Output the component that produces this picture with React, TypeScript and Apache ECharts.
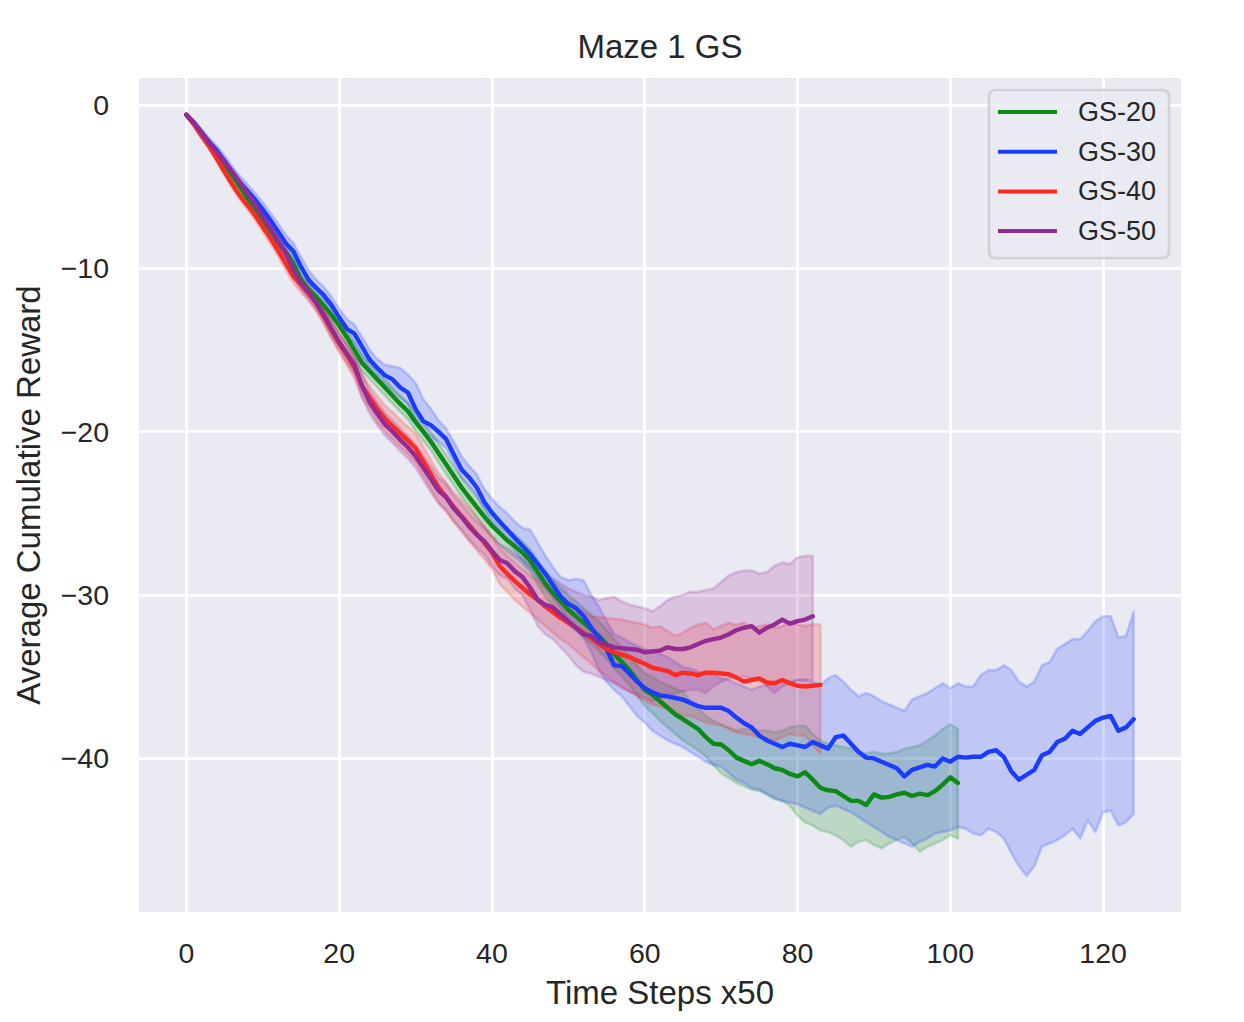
import React, { useEffect, useRef } from "react";
import * as echarts from "echarts";

const xTicks = [0, 20, 40, 60, 80, 100, 120];
const yTicks = [0, -10, -20, -30, -40];
const seriesNames = ["GS-20", "GS-30", "GS-40", "GS-50"];
const seriesColors = ["#0b8a16", "#1a3cff", "#ff2a1f", "#942a94"];

const gs20Mean = [
  -0.6, -1.1, -1.7, -2.3, -2.9, -3.6, -4.3, -5.0, -5.7, -6.4,
  -7.0, -7.7, -8.4, -9.0, -9.7, -10.7, -11.3, -11.75, -12.3, -12.85,
  -13.5, -14.2, -15.0, -15.8, -16.3, -16.8, -17.3, -17.8, -18.3, -18.75,
  -19.4, -20.0, -20.6, -21.3, -22.0, -22.7, -23.4, -24.0, -24.6, -25.2,
  -25.75, -26.2, -26.65, -27.0, -27.4, -27.9, -28.6, -29.3, -29.9, -30.4,
  -30.9, -31.3, -31.7, -32.1, -32.5, -33.0, -33.6, -34.1, -34.6, -35.2,
  -35.8, -36.1, -36.5, -36.9, -37.3, -37.6, -37.9, -38.2, -38.7, -39.1,
  -39.15, -39.5, -39.95, -40.15, -40.35, -40.15, -40.35, -40.6, -40.7, -40.95,
  -41.1, -40.85, -41.3, -41.8, -41.95, -42.0, -42.3, -42.6, -42.6, -42.85,
  -42.2, -42.4, -42.35, -42.2, -42.1, -42.3, -42.15, -42.25, -42.0, -41.6,
  -41.15, -41.5,
];
const gs20Upper = [
  -0.55, -1.0, -1.55, -2.1, -2.7, -3.35, -4.05, -4.7, -5.4, -6.1,
  -6.7, -7.35, -8.05, -8.65, -9.3, -10.3, -10.9, -11.35, -11.9, -12.45,
  -13.05, -13.75, -14.5, -15.3, -15.8, -16.3, -16.8, -17.3, -17.8, -18.25,
  -18.85, -19.45, -20.05, -20.7, -21.4, -22.1, -22.8, -23.4, -23.95, -24.55,
  -25.1, -25.5, -25.95, -26.3, -26.7, -27.2, -27.85, -28.5, -29.1, -29.55,
  -30.0, -30.4, -30.8, -31.2, -31.6, -32.1, -32.7, -33.2, -33.7, -34.3,
  -34.8, -35.0, -35.3, -35.5, -35.7, -35.9, -36.5, -36.9, -37.4, -37.7,
  -37.9, -38.1, -38.3, -38.2, -38.2, -38.3, -38.3, -38.4, -38.3, -38.1,
  -38.0, -38.0, -38.5, -38.9, -39.1, -39.2, -39.3, -39.4, -39.6, -39.7,
  -39.6, -39.7, -39.7, -39.6, -39.4, -39.3, -39.2, -38.9, -38.6, -38.2,
  -37.9, -38.2,
];
const gs20Lower = [
  -0.65, -1.2, -1.85, -2.5, -3.1, -3.85, -4.55, -5.3, -6.0, -6.7,
  -7.3, -8.05, -8.75, -9.35, -10.1, -11.1, -11.7, -12.15, -12.7, -13.25,
  -13.95, -14.65, -15.5, -16.3, -16.8, -17.3, -17.8, -18.3, -18.8, -19.25,
  -19.95, -20.55, -21.15, -21.9, -22.6, -23.3, -24.0, -24.6, -25.25, -25.85,
  -26.4, -26.9, -27.35, -27.7, -28.1, -28.6, -29.35, -30.1, -30.7, -31.25,
  -31.8, -32.2, -32.6, -33.0, -33.4, -33.9, -34.5, -35.0, -35.5, -36.1,
  -36.8, -37.2, -37.7, -38.1, -38.5, -38.9, -39.2, -39.5, -39.9, -40.4,
  -40.9, -41.2, -41.5, -41.7, -41.9, -42.0, -42.2, -42.5, -42.6, -42.9,
  -43.5, -43.9, -44.1, -44.4, -44.5, -44.7, -45.0, -45.4, -45.1, -45.0,
  -45.3, -45.5, -45.2, -45.0, -44.8, -45.2, -45.7, -45.4, -45.2, -45.0,
  -44.7, -44.9,
];

const gs30Mean = [
  -0.6, -1.1, -1.7, -2.3, -2.8, -3.45, -4.1, -4.75, -5.25, -5.8,
  -6.4, -7.05, -7.75, -8.45, -8.95, -9.9, -10.7, -11.2, -11.65, -12.25,
  -13.0, -13.7, -14.0, -14.8, -15.6, -16.1, -16.55, -16.8, -17.3, -17.6,
  -18.6, -19.35, -19.6, -20.0, -20.45, -21.4, -22.3, -22.8, -23.4, -24.3,
  -24.95, -25.5, -26.0, -26.5, -27.0, -27.5, -28.1, -28.7, -29.4, -30.1,
  -30.55, -30.8, -31.3, -32.0, -32.6, -33.3, -34.3, -34.35, -34.8, -35.3,
  -35.7, -35.95, -36.15, -36.2, -36.3, -36.4, -36.6, -36.8, -36.9, -36.9,
  -36.9, -37.1, -37.5, -37.85, -38.1, -38.6, -38.9, -39.1, -39.3, -39.1,
  -39.2, -39.3, -39.0, -39.2, -39.4, -38.7, -38.6, -39.1, -39.6, -39.95,
  -40.0, -40.2, -40.4, -40.6, -41.1, -40.7, -40.55, -40.4, -40.5, -40.0,
  -40.2, -39.9, -39.95, -39.9, -39.9, -39.6, -39.5, -39.9, -40.8, -41.3,
  -41.0, -40.7, -39.8, -39.6, -39.0, -38.8, -38.3, -38.5, -38.1, -37.7,
  -37.5, -37.4, -38.3, -38.1, -37.6,
];
const gs30Upper = [
  -0.55, -0.95, -1.5, -2.05, -2.5, -3.1, -3.75, -4.35, -4.85, -5.4,
  -5.95, -6.6, -7.25, -7.95, -8.45, -9.3, -10.1, -10.7, -11.15, -11.75,
  -12.45, -13.1, -13.45, -14.2, -15.0, -15.55, -15.9, -16.0, -16.1, -16.5,
  -17.0, -18.0, -18.6, -19.3, -19.8, -20.6, -21.5, -22.1, -22.6, -23.5,
  -24.1, -24.6, -25.0, -25.5, -25.9, -26.0, -26.8, -27.6, -28.3, -28.9,
  -29.1, -29.0, -29.1, -30.0, -30.7, -31.6, -32.4, -32.6, -32.9, -33.1,
  -33.3, -33.5, -33.6, -33.8, -34.1, -34.4, -34.5, -34.7, -34.8, -34.9,
  -35.1, -35.2, -35.4, -35.6, -35.8, -35.6, -35.5, -35.4, -35.2, -35.3,
  -35.2, -35.2, -35.3, -35.5, -35.1, -34.9, -35.3, -35.8, -36.2, -36.0,
  -36.2, -36.5, -36.7, -36.9, -37.1, -36.4, -36.2, -36.0, -35.7, -35.4,
  -35.7, -35.4, -35.6, -35.6, -34.9, -34.6, -34.6, -34.3, -34.6, -35.3,
  -35.6, -35.3, -34.3, -34.1, -33.3, -33.0, -32.7, -32.7, -32.2, -31.6,
  -31.3, -31.3, -32.6, -32.5, -31.0,
];
const gs30Lower = [
  -0.65, -1.25, -1.9, -2.55, -3.1, -3.8, -4.45, -5.15, -5.65, -6.2,
  -6.85, -7.5, -8.25, -8.95, -9.45, -10.5, -11.3, -11.7, -12.15, -12.75,
  -13.55, -14.3, -14.55, -15.4, -16.2, -16.6, -17.1, -17.5, -17.9, -18.3,
  -19.4, -20.0, -20.3, -20.6, -21.0, -21.9, -22.8, -23.3, -23.9, -24.8,
  -25.5, -26.1, -26.7, -27.3, -27.9, -28.4, -29.0, -29.6, -30.2, -30.8,
  -31.6, -32.1, -32.6, -33.5, -34.6, -35.3, -35.8, -36.2, -36.8, -37.4,
  -37.8, -38.3, -38.6, -38.9, -39.1, -39.3, -39.6, -39.9, -40.2, -40.4,
  -40.5, -40.9, -41.3, -41.5, -41.8, -41.9, -42.2, -42.4, -42.6, -42.7,
  -42.8, -43.0, -43.2, -43.4, -43.0, -42.9, -43.1, -43.3, -43.6, -43.9,
  -44.2, -44.5, -44.8, -45.0, -45.2, -45.4, -45.1, -44.9, -44.6, -44.5,
  -44.4, -44.2, -44.3, -44.6, -44.7, -44.3, -44.5, -44.9, -45.8, -46.6,
  -47.2, -46.6, -45.4, -45.2, -45.0, -44.7, -44.3, -44.9, -43.8, -44.5,
  -43.3, -43.2, -44.1, -43.9, -43.4,
];

const gs40Mean = [
  -0.6, -1.2, -1.9, -2.55, -3.3, -4.1, -4.85, -5.55, -6.15, -6.75,
  -7.45, -8.15, -8.9, -9.7, -10.5, -11.0, -11.55, -12.15, -12.95, -13.8,
  -14.6, -15.3, -16.1, -17.2, -17.9, -18.6, -19.2, -19.65, -20.1, -20.55,
  -21.0, -21.8, -22.6, -23.4, -24.0, -24.6, -25.15, -25.7, -26.25, -26.8,
  -27.4, -28.2, -28.7, -29.15, -29.55, -29.95, -30.3, -30.7, -31.05, -31.4,
  -31.7, -32.0, -32.3, -32.65, -33.0, -33.3, -33.5, -33.65, -33.8, -34.0,
  -34.2, -34.45, -34.55, -34.65, -34.9, -34.75, -34.8, -34.9, -34.75, -34.75,
  -34.8, -34.85, -35.05, -35.3, -35.2, -35.1, -35.35, -35.4, -35.2, -35.4,
  -35.55, -35.6, -35.55, -35.5,
];
const gs40Upper = [
  -0.55, -1.1, -1.8, -2.4, -3.1, -3.9, -4.6, -5.3, -5.9, -6.45,
  -7.15, -7.8, -8.55, -9.3, -10.1, -10.55, -11.1, -11.7, -12.45, -13.3,
  -14.05, -14.7, -15.45, -16.5, -17.2, -17.8, -18.4, -18.8, -19.25, -19.7,
  -20.1, -20.9, -21.7, -22.5, -23.1, -23.7, -24.2, -24.7, -25.25, -25.8,
  -26.4, -27.1, -27.6, -28.0, -28.4, -28.8, -29.1, -29.5, -29.8, -30.1,
  -30.4, -30.7, -31.0, -31.3, -31.35, -31.4, -31.45, -31.5, -31.6, -31.7,
  -31.8, -32.0, -31.9, -32.2, -32.5, -32.3, -32.0, -31.8, -31.7, -32.1,
  -31.9, -31.7, -31.8, -31.7, -32.0, -31.9, -31.8, -32.0, -31.9, -31.7,
  -31.8, -31.9, -31.8, -31.8,
];
const gs40Lower = [
  -0.65, -1.3, -2.0, -2.7, -3.5, -4.3, -5.1, -5.8, -6.4, -7.05,
  -7.75, -8.5, -9.25, -10.1, -10.9, -11.45, -12.0, -12.6, -13.45, -14.3,
  -15.15, -15.9, -16.75, -17.9, -18.6, -19.4, -20.0, -20.5, -20.95, -21.4,
  -21.9, -22.7, -23.5, -24.3, -24.9, -25.5, -26.1, -26.7, -27.25, -27.8,
  -28.4, -29.3, -29.8, -30.3, -30.7, -31.1, -31.5, -31.9, -32.3, -32.7,
  -33.0, -33.4, -33.8, -34.2, -34.6, -35.0, -35.3, -35.6, -35.9, -36.2,
  -36.5, -36.7, -36.8, -37.0, -37.2, -37.4, -37.4, -37.6, -37.8, -37.9,
  -38.0, -38.2, -38.4, -38.5, -38.6, -38.7, -38.8, -38.9, -38.7, -38.5,
  -38.6, -38.6, -39.2, -39.7,
];

const gs50Mean = [
  -0.6, -1.1, -1.7, -2.35, -2.9, -3.5, -4.1, -4.75, -5.4, -6.1,
  -6.85, -7.55, -8.3, -9.05, -10.1, -10.9, -11.45, -12.1, -12.85, -13.7,
  -14.5, -15.2, -15.9, -17.2, -18.2, -18.9, -19.55, -20.0, -20.5, -20.95,
  -21.5, -22.2, -22.9, -23.6, -24.0, -24.7, -25.2, -25.8, -26.3, -26.7,
  -27.3, -27.85, -28.05, -28.55, -28.9, -29.55, -30.3, -30.6, -30.75, -31.2,
  -31.6, -32.0, -32.4, -32.5, -32.9, -33.05, -33.2, -33.25, -33.3, -33.35,
  -33.5, -33.45, -33.4, -33.2, -33.3, -33.3, -33.2, -33.0, -32.8, -32.7,
  -32.6, -32.4, -32.15, -32.0, -31.9, -32.3, -32.0, -31.8, -31.5, -31.75,
  -31.6, -31.5, -31.3,
];
const gs50Upper = [
  -0.55, -1.0, -1.55, -2.2, -2.7, -3.3, -3.9, -4.55, -5.2, -5.85,
  -6.6, -7.3, -8.0, -8.7, -9.7, -10.5, -11.05, -11.65, -12.4, -13.2,
  -14.0, -14.65, -15.3, -16.5, -17.5, -18.2, -18.85, -19.3, -19.8, -20.25,
  -20.8, -21.45, -22.1, -22.8, -23.2, -23.9, -24.4, -25.0, -25.5, -25.9,
  -26.4, -26.9, -27.1, -27.5, -27.8, -28.2, -28.6, -28.8, -29.0, -29.3,
  -29.6, -29.8, -30.0, -30.1, -30.3, -30.2, -30.1, -30.4, -30.6, -30.7,
  -30.8, -31.0, -30.7, -30.3, -30.1, -30.0, -29.8, -29.8, -29.7, -29.6,
  -29.2, -28.8, -28.6, -28.5, -28.5, -28.7, -28.6, -28.2, -28.0, -28.1,
  -27.7, -27.6, -27.6,
];
const gs50Lower = [
  -0.65, -1.2, -1.85, -2.5, -3.1, -3.7, -4.3, -4.95, -5.6, -6.35,
  -7.1, -7.8, -8.6, -9.4, -10.5, -11.3, -11.85, -12.55, -13.3, -14.2,
  -15.0, -15.75, -16.5, -17.9, -18.9, -19.6, -20.25, -20.7, -21.2, -21.65,
  -22.2, -22.95, -23.7, -24.4, -24.8, -25.5, -26.0, -26.6, -27.1, -27.5,
  -28.2, -28.8, -29.0, -29.6, -30.0, -30.9, -31.9, -32.4, -32.7, -33.2,
  -33.7, -34.3, -34.7, -34.8, -35.0, -35.2, -35.4, -35.7, -35.9, -36.1,
  -36.3, -36.5, -36.3, -36.1, -36.0, -35.9, -35.8, -35.8, -36.0, -35.6,
  -35.3, -35.1, -35.0, -35.0, -35.1, -35.2, -35.6, -36.0, -35.6, -35.4,
  -35.2, -35.2, -35.2,
];

const FONT = '"Liberation Sans", Arial, Helvetica, sans-serif';
const TEXT = "#262626";

function rgba(hex: string, a: number) {
  const h = hex.replace("#", "");
  const r = parseInt(h.slice(0, 2), 16);
  const g = parseInt(h.slice(2, 4), 16);
  const b = parseInt(h.slice(4, 6), 16);
  return `rgba(${r},${g},${b},${a})`;
}

const minus = (v: number) => String(v).replace("-", "\u2212");

export default function App() {
  const ref = useRef<HTMLDivElement>(null);

  useEffect(() => {
    if (!ref.current) return;
    const chart = echarts.init(ref.current, null, { renderer: "svg" });
    const means = [gs20Mean, gs30Mean, gs40Mean, gs50Mean];
    const uppers = [gs20Upper, gs30Upper, gs40Upper, gs50Upper];
    const lowers = [gs20Lower, gs30Lower, gs40Lower, gs50Lower];

    const bandSeries = seriesNames.map((name, k) => ({
      type: "custom",
      name: name + " band",
      silent: true,
      z: 1,
      data: [[0, 0]],
      renderItem: (_params: any, api: any) => {
        const up = uppers[k];
        const lo = lowers[k];
        const pts: number[][] = [];
        for (let i = 0; i < up.length; i++) pts.push(api.coord([i, up[i]]));
        for (let i = lo.length - 1; i >= 0; i--) pts.push(api.coord([i, lo[i]]));
        return {
          type: "polygon",
          shape: { points: pts },
          style: {
            fill: rgba(seriesColors[k], 0.2),
            stroke: rgba(seriesColors[k], 0.2),
            lineWidth: 2.7,
            lineJoin: "round",
          },
        };
      },
    }));

    const lineSeries = seriesNames.map((name, k) => ({
      type: "line",
      name,
      z: 3,
      silent: true,
      showSymbol: false,
      symbol: "none",
      data: means[k].map((v, i) => [i, v]),
      itemStyle: { color: seriesColors[k] },
      lineStyle: { color: seriesColors[k], width: 4.4, cap: "round", join: "round" },
      emphasis: { disabled: true },
    }));

    chart.setOption({
      animation: false,
      backgroundColor: "#ffffff",
      textStyle: { fontFamily: FONT },
      grid: {
        left: 139,
        right: 63,
        top: 78,
        bottom: 110,
        show: true,
        backgroundColor: "#EAEAF2",
        borderWidth: 0,
        containLabel: false,
        outerBoundsMode: "none",
      },
      graphic: [
        {
          type: "text",
          x: 660,
          y: 30,
          silent: true,
          style: {
            text: "Maze 1 GS",
            fontSize: 33,
            fontFamily: FONT,
            fill: TEXT,
            align: "center",
            textAlign: "center",
            verticalAlign: "top",
          },
        },
      ],
      legend: {
        data: seriesNames,
        orient: "vertical",
        left: 989,
        top: 90,
        icon: "rect",
        itemWidth: 59,
        itemHeight: 4,
        itemGap: 11.7,
        padding: [8, 13, 13, 9],
        backgroundColor: "rgba(234,234,242,0.8)",
        borderColor: "rgba(204,204,204,0.8)",
        borderWidth: 2.7,
        borderRadius: 6,
        selectedMode: false,
        textStyle: {
          fontFamily: FONT,
          fontSize: 27,
          color: TEXT,
          lineHeight: 28,
          padding: [0, 0, 0, 16],
        },
      },
      xAxis: {
        type: "value",
        min: -6.2,
        max: 130.2,
        axisLine: { show: false },
        axisTick: { show: false, customValues: xTicks },
        axisLabel: {
          customValues: xTicks,
          fontFamily: FONT,
          fontSize: 28.5,
          color: TEXT,
          margin: 26,
          formatter: (v: number) => minus(v),
        },
        splitLine: { show: true, lineStyle: { color: "#ffffff", width: 2.7 } },
        name: "Time Steps x50",
        nameLocation: "middle",
        nameGap: 64,
        nameTextStyle: { fontFamily: FONT, fontSize: 33, color: TEXT },
      },
      yAxis: {
        type: "value",
        min: -49.4,
        max: 1.65,
        axisLine: { show: false },
        axisTick: { show: false, customValues: yTicks },
        axisLabel: {
          customValues: yTicks,
          fontFamily: FONT,
          fontSize: 28.5,
          color: TEXT,
          margin: 30,
          formatter: (v: number) => minus(v),
        },
        splitLine: { show: true, lineStyle: { color: "#ffffff", width: 2.7 } },
        name: "Average Cumulative Reward",
        nameLocation: "middle",
        nameRotate: 90,
        nameGap: 94,
        nameTextStyle: { fontFamily: FONT, fontSize: 33, color: TEXT },
      },
      series: [...bandSeries, ...lineSeries],
    });

    return () => chart.dispose();
  }, []);

  return (
    <div
      ref={ref}
      style={{ position: "fixed", left: 0, top: 0, width: 1244, height: 1022, background: "#ffffff" }}
    />
  );
}
